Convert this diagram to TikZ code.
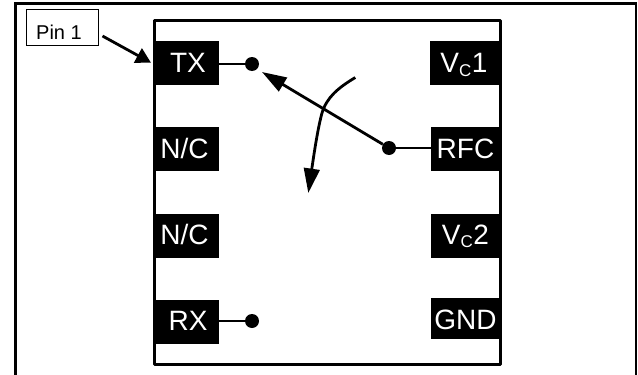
\documentclass[tikz,border=0pt]{standalone}
\usepackage{fontspec}
\setmainfont{Liberation Sans}
\usetikzlibrary{arrows.meta}
\tikzset{
  x=1pt,y=-1pt,
  pad/.style={fill=black,text=white,inner sep=0pt,font=\fontsize{28}{30}\selectfont},
  dot/.style={circle,fill=black,inner sep=0pt,minimum size=14pt},
  wire/.style={line width=2.7pt},
  arr/.style={line width=2.8pt,-{Triangle[length=24.5pt,width=15.7pt]}},
  short arr/.style={line width=2.8pt,-{Triangle[length=15pt,width=16pt]}},
  pad box/.style={pad,minimum width=#1,minimum height=44pt}
}
\newcommand{\VC}[1]{V\textsubscript{\fontsize{17}{17}\selectfont C}#1}
\newcommand{\low}[2]{\raisebox{-#1pt}[0pt][0pt]{#2}}
\begin{document}
\begin{tikzpicture}
\useasboundingbox (0,0) rectangle (638,375);
% outer frame, open at the bottom
\draw[line width=2.8pt] (15.5,375) -- (15.5,3.4) -- (636,3.4) -- (636,375);
% package outline
\draw[line width=3pt,line join=round] (154,20) rectangle (500,364);
% pads
\node[pad box=66pt] (tx) at (186,62.5) {\hspace{4pt}\low{10.2}{TX}};
\node[pad box=66pt] (nc1) at (186,149) {\hspace{-3pt}\low{9.3}{N/C}};
\node[pad box=66pt] (nc2) at (186,235.5) {\hspace{-3pt}\low{8.5}{N/C}};
\node[pad box=66pt] (rx) at (186,322) {\hspace{4pt}\low{8}{RX}};
\node[pad box=70pt] (vc1) at (465,62.5) {\hspace{-2pt}\low{10.2}{\VC{1}}};
\node[pad box=69pt] (rfc) at (465.5,149) {\low{9.3}{RFC}};
\node[pad box=69pt] (vc2) at (465.5,235.5) {\low{8.5}{\VC{2}}};
\node[pad box=69pt,minimum height=41pt] (gnd) at (465.5,318.5) {\low{10.8}{GND}};
% contacts
\node[dot] (dtx) at (252,64) {};
\node[dot] (drfc) at (389,148) {};
\node[dot] (drx) at (252,321) {};
\draw[wire] (tx.east |- dtx) -- (dtx);
\draw[wire] (rfc.west |- drfc) -- (drfc);
\draw[wire] (rx.east |- drx) -- (drx);
% switch arm and actuation arrow
\coordinate (armtip) at (262,72);
\coordinate (curvestart) at (355.3,77.5);
\coordinate (curvemid) at (322,113);
\coordinate (curveend) at (308.3,193);
\draw[arr] (drfc) -- (armtip);
\draw[arr] (curvestart) .. controls (338,88) and (327,97) .. (curvemid) .. controls (319,124) and (316,140) .. (curveend);
% pin 1 callout
\node[draw=black,line width=0.8pt,minimum width=72pt,minimum height=36pt,inner sep=0pt,font=\fontsize{20}{24}\selectfont] (pin) at (62.5,27.5) {\hspace{-7pt}\low{11.5}{Pin 1}};
\coordinate (pintip) at (151,62.7);
\coordinate (pinstart) at (102.5,36);
\draw[short arr] (pinstart) -- (pintip);
\end{tikzpicture}
\end{document}
